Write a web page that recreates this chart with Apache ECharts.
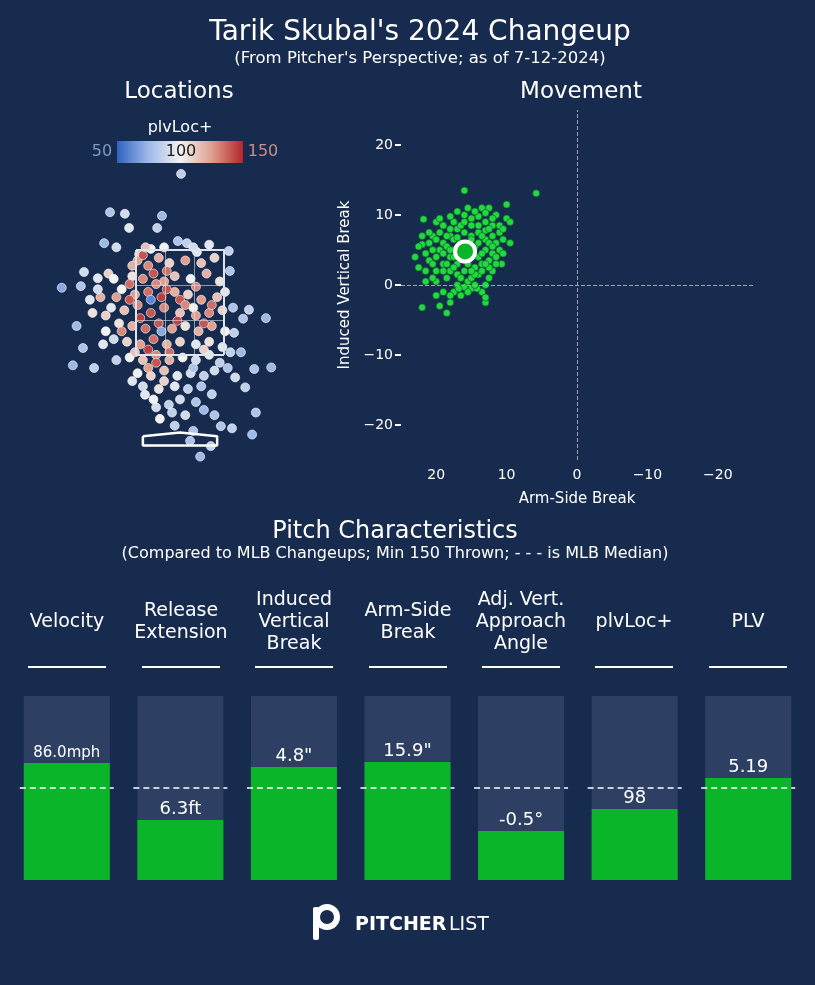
<!DOCTYPE html>
<html>
<head>
<meta charset="utf-8">
<title>Skubal Changeup</title>
<script src="https://cdn.jsdelivr.net/npm/echarts@6/dist/echarts.min.js"></script>
<style>
  * { margin: 0; padding: 0; }
  body { background: #172b4f; }
  #main { width: 815px; height: 985px; }
</style>
</head>
<body>
<div id="main"></div>
<script>
// location of each pitch: [plate x (ft), plate z (ft), plvLoc+]
var locPoints = [
  [0.02,4.95,85],[-1.32,4.22,80],[-1.04,4.19,90],[-0.34,4.15,75],[-0.96,3.92,95],[-0.43,3.92,85],
  [-0.04,3.67,80],[-1.43,3.63,75],[-1.2,3.55,90],[-0.77,3.42,110],[-0.55,3.52,100],[0.13,3.63,85],
  [0.32,3.46,95],[0.92,3.48,85],[-1.81,3.08,90],[-2.23,2.78,70],[0.94,3.1,80],[1.3,2.36,85],
  [1.62,2.2,75],[-1.87,2.81,80],[-1.55,2.96,95],[-1.95,2.05,75],[-1.83,1.63,80],[-2.02,1.3,75],
  [-1.62,1.25,85],[1.4,1.23,80],[1.72,1.26,75],[1.23,0.88,85],[1.43,0.4,80],[1.36,-0.02,75],
  [0.77,0.14,80],[0.98,0.1,85],[0.19,-0.14,80],[0.58,-0.24,85],[0.38,-0.44,75],[-0.66,0.74,95],
  [-0.45,0.5,90],[-0.38,0.28,100],[-0.21,0.55,85],[1.04,1.07,90],[1.0,2.4,80],[1.02,1.92,85],
  [1.19,2.19,80],
  [-0.8,3.3,125],[-0.6,3.2,130],[-0.4,3.35,120],[-0.2,3.25,110],[0.1,3.3,125],[0.4,3.25,115],
  [0.65,3.35,110],[-0.9,3.0,105],[-0.7,2.95,130],[-0.5,3.05,140],[-0.3,2.9,125],[-0.1,3.0,115],
  [0.2,2.95,100],[0.5,3.05,120],[0.75,2.9,105],[-1.1,2.75,100],[-0.85,2.65,125],[-0.6,2.7,135],
  [-0.35,2.6,145],[-0.1,2.7,120],[0.15,2.65,110],[0.4,2.55,125],[0.7,2.6,115],[-1.3,2.4,95],
  [-1.05,2.35,115],[-0.8,2.45,130],[-0.55,2.3,140],[-0.3,2.4,130],[0.0,2.3,115],[0.25,2.4,100],
  [0.55,2.3,130],[0.8,2.35,110],[-1.15,2.1,105],[-0.9,2.05,120],[-0.65,2.0,135],[-0.4,2.1,140],
  [-0.15,2.0,125],[0.1,2.05,105],[0.35,1.95,120],[0.6,2.05,125],[0.85,1.95,100],[-1.25,1.8,90],
  [-1.0,1.75,110],[-0.75,1.7,125],[-0.5,1.8,135],[-0.25,1.7,120],[0.0,1.75,110],[0.3,1.7,95],
  [0.55,1.75,105],[0.8,1.65,95],[-0.95,1.45,100],[-0.7,1.4,115],[-0.45,1.5,130],[-0.2,1.4,120],
  [0.05,1.45,100],[0.3,1.4,90],[0.55,1.5,95],[0.75,1.35,85],[-0.8,1.15,100],[-0.55,1.1,110],
  [-0.3,1.2,115],[-0.05,1.1,95],[0.2,1.15,90],[0.45,1.1,85],[0.65,1.2,90],[-0.7,0.9,90],
  [-0.4,0.85,105],[-0.1,0.9,95],[0.15,0.85,85],[0.4,0.9,80],[0.6,0.75,85],[-0.55,2.55,60],
  [-0.35,1.95,70],[-1.35,3.05,110],[-1.5,2.6,120],[-1.65,2.3,105],[-1.4,1.95,100],[0.3,0.6,80],
  [-0.15,0.4,85],[0.1,0.35,90],[-0.25,3.1,135],[0.3,2.8,130],[-0.75,2.2,145],[0.0,2.55,140],
  [-0.9,3.2,120],[-0.7,3.4,140],[-0.95,2.85,135],[-1.2,2.6,125],[-1.4,2.25,110],[-1.1,1.95,130],
  [-0.85,1.55,115],[-0.6,1.25,125],[-0.3,1.0,110],[-0.45,1.35,140],[-0.2,1.55,135],[-0.6,1.6,145],
  [-0.95,2.55,140],[-1.25,2.95,100],[-1.55,2.75,90],[-1.7,2.55,95],[-1.45,1.7,95],[-1.2,1.4,85],
  [-0.9,1.0,95],[-0.5,0.65,100],[0.0,0.65,90],[0.25,1.25,80],[0.45,1.6,110],[0.6,2.45,135],
  [0.45,2.1,140],[0.3,2.25,125],[0.1,2.45,130],[-0.05,2.15,145],[-0.25,2.75,140],[-0.45,2.85,130],
  [0.85,2.7,95],[0.95,1.55,85],[0.9,1.25,80],[1.15,1.55,75],[0.45,0.45,75],[0.65,0.35,80],
  [-0.1,0.15,85],[0.25,0.05,80],[-0.65,3.55,115],[-0.3,3.55,100],[0.25,3.55,90],[0.55,3.6,95]
];
// movement of each pitch: [arm-side break (in), induced vertical break (in)]
var movePoints = [
  [16,13.5],[13.5,11],[12.5,11],[11.5,10],[10,11.5],[10,9.5],[9.5,9],[5.8,13.1],[9.5,6],[10.5,6.5],
  [10.7,3],[12,2],[13,0],[13.5,-1],[13,-2.5],[15,-0.5],[16.5,-1.5],[18,-2.5],[18.5,-4],[19.5,-3],
  [22,-3.2],[21.5,0.5],[22.5,2.5],[23,4],[22,5.8],[21.8,9.4],[20.5,7],[19,8.5],[17.5,9],[16,10],
  [15,9.5],[14,9.8],[13,9],[12,8.5],[11,7.5],[11.5,6],[12,4.5],[11.5,3],[12.5,1],[14,1.5],
  [15.5,0.5],[17,0],[18.5,1],[20,2],[21,3.5],[21,6],[20,4],[19,6],[18,7],[17,8],
  [16,7.5],[15,7],[14,7.5],[13,6.5],[12.5,6],[13,5],[14,4],[13.5,3],[14.5,2.5],[16,2],
  [17,3],[18,4],[19,3],[19.5,5],[18.5,5.5],[17.5,5],[16.5,6],[15.5,5.5],[14.5,5.5],[15,4],
  [16,3.5],[17,1.5],[18,2],[20,0.5],[19,-1],[17.5,-1],[16,-0.3],[15,1],[13.5,4.5],[12,7],
  [14,8.5],[15,8.5],[16.5,8.5],[18,8],[19.5,7.5],[20.5,5],[21.5,4.5],[20.5,1],[17.5,4],[16.5,4.5],
  [15.5,3],[14,6],[13,7.8],[11,5],[10.5,4.5],[20,9],[17,10.5],[15.5,11],[12.5,2.5],[14.2,-0.5],
  [21,7.5],[22,7],[20,6.5],[19,4.5],[18.5,3],[17.5,2.5],[16.5,1],[14.5,0],[13.5,2],[12.5,3.5],
  [11.5,4],[12,5.5],[13.5,7],[15,6.5],[16,9],[17.5,6.5],[18.5,7],[19.5,9.5],[18,9.8],[14.5,10.5],
  [13,10.3],[12,9.5],[11,8.5],[10.5,8],[19,2],[20.5,3],[21.5,2],[22.5,5.5],[20,-1.5],[18,-1.5],
  [16.8,-0.5],[15.5,-1],[13,-1.8],[14.5,1.5],[17,6.8],[18,5],[16,5],[13,3],[12.5,8],[15,2]
];
var avgMove = [15.9, 4.8];

var metricNames = ['Velocity', 'Release\nExtension', 'Induced\nVertical\nBreak', 'Arm-Side\nBreak',
  'Adj. Vert.\nApproach\nAngle', 'plvLoc+', 'PLV'];
var metricLabels = ['86.0mph', '6.3ft', '4.8"', '15.9"', '-0.5°', '98', '5.19'];
var metricPct = [63.6, 32.6, 61.4, 64.1, 26.6, 38.6, 55.4];
var medianPct = 50;
var moveTicks = [-20, -10, 0, 10, 20];

var bg = '#172b4f';
var chart = echarts.init(document.getElementById('main'));

// strike zone + inner grid lines
var zx = [-0.83, -0.277, 0.277, 0.83], zy = [1.5, 2.167, 2.833, 3.5];
var zoneLines = [];
zx.forEach(function (x, i) {
  var edge = (i == 0 || i == 3);
  zoneLines.push({ coords: [[x, 1.5], [x, 3.5]], lineStyle: { width: edge ? 2 : 1, opacity: edge ? 1 : 0.6 } });
});
zy.forEach(function (y, i) {
  var edge = (i == 0 || i == 3);
  zoneLines.push({ coords: [[-0.83, y], [0.83, y]], lineStyle: { width: edge ? 2 : 1, opacity: edge ? 1 : 0.6 } });
});
var plate = [[-0.7, -0.05], [-0.7, -0.23], [0.7, -0.23], [0.7, -0.05], [0, 0.02], [-0.7, -0.05]];

function txt(x, y, s, font, fill, align) {
  return { type: 'text', x: x, y: y, style: { text: s, fill: fill || '#fff', font: font, align: align || 'center', verticalAlign: 'middle', lineHeight: 22 } };
}

var headerGraphics = [];
var centers = [67, 181, 294, 408, 521, 634, 748];
centers.forEach(function (cx, i) {
  headerGraphics.push(txt(cx, 622, metricNames[i], '19px "DejaVu Sans"'));
  headerGraphics.push({ type: 'line', shape: { x1: cx - 39, y1: 667, x2: cx + 39, y2: 667 }, style: { stroke: '#fff', lineWidth: 2 } });
});

function minus(v) { return v < 0 ? '\u2212' + (-v) : String(v); }

var option = {
  backgroundColor: bg,
  animation: false,
  textStyle: { fontFamily: 'DejaVu Sans' },
  visualMap: { show: false, seriesIndex: 0, dimension: 2, min: 50, max: 150,
    inRange: { color: ['#2f63c0', '#9db9e8', '#f2f2f2', '#e0a08f', '#b3262b'] } },
  grid: [
    { left: 40, top: 165, width: 280, height: 300 },
    { left: 401, top: 110, width: 352, height: 350 },
    { left: 10, top: 696, width: 795, height: 184 }
  ],
  xAxis: [
    { gridIndex: 0, type: 'value', min: -2.64, max: 2.64, show: false },
    { gridIndex: 1, type: 'value', min: -25, max: 25, inverse: true,
      name: 'Arm-Side Break', nameLocation: 'middle', nameGap: 32, nameTextStyle: { color: '#fff', fontSize: 15 },
      axisLine: { show: false, onZero: false }, axisTick: { show: false }, splitLine: { show: false },
      axisLabel: { color: '#fff', fontSize: 14, customValues: moveTicks, formatter: minus } },
    { gridIndex: 2, type: 'category', data: metricNames, show: false }
  ],
  yAxis: [
    { gridIndex: 0, type: 'value', min: -0.6, max: 5.12, show: false },
    { gridIndex: 1, type: 'value', min: -25, max: 25,
      name: 'Induced Vertical Break', nameLocation: 'middle', nameGap: 48, nameTextStyle: { color: '#fff', fontSize: 15 },
      axisLine: { show: false, onZero: false },
      axisTick: { show: true, length: 6, customValues: moveTicks, lineStyle: { color: '#fff', width: 2 } }, splitLine: { show: false },
      axisLabel: { color: '#fff', fontSize: 14, customValues: moveTicks, formatter: minus } },
    { gridIndex: 2, type: 'value', min: 0, max: 100, show: false }
  ],
  series: [
    { type: 'scatter', xAxisIndex: 0, yAxisIndex: 0, data: locPoints, symbolSize: 9,
      itemStyle: { borderColor: '#fff', borderWidth: 0.6, opacity: 1 }, z: 3 },
    { type: 'lines', coordinateSystem: 'cartesian2d', xAxisIndex: 0, yAxisIndex: 0, data: zoneLines,
      lineStyle: { color: '#dfe3ea', width: 2 }, z: 4 },
    { type: 'line', xAxisIndex: 0, yAxisIndex: 0, data: plate, symbol: 'none',
      lineStyle: { color: '#fff', width: 2.5 }, z: 4 },
    { type: 'scatter', xAxisIndex: 1, yAxisIndex: 1, data: movePoints, symbolSize: 7,
      itemStyle: { color: '#22d843', borderColor: '#0d5a1e', borderWidth: 0.6, opacity: 1 }, z: 3,
      markLine: { silent: true, symbol: 'none', label: { show: false },
        lineStyle: { color: '#9aa4b5', type: 'dashed', width: 1 },
        data: [{ xAxis: 0 }, { yAxis: 0 }] } },
    { type: 'scatter', xAxisIndex: 1, yAxisIndex: 1, data: [avgMove], symbolSize: 20,
      itemStyle: { color: '#0ab52a', borderColor: '#fff', borderWidth: 4, opacity: 1 }, z: 5 },
    { type: 'bar', xAxisIndex: 2, yAxisIndex: 2, data: metricPct, barWidth: 86,
      showBackground: true, backgroundStyle: { color: '#2d4063' },
      itemStyle: { color: '#0ab52a' },
      label: { show: true, position: 'top', distance: 2, color: '#fff', fontSize: 18,
        formatter: function (p) { return metricLabels[p.dataIndex]; } },
      labelLayout: function (p) { return p.dataIndex == 0 ? { fontSize: 15 } : {}; } },
    { type: 'custom', xAxisIndex: 2, yAxisIndex: 2, data: metricNames.map(function (n, i) { return [i, medianPct]; }),
      renderItem: function (params, api) {
        var p = api.coord([api.value(0), api.value(1)]);
        return { type: 'line', shape: { x1: p[0] - 47, y1: p[1], x2: p[0] + 47, y2: p[1] },
          style: { stroke: '#fff', lineWidth: 1.5, lineDash: [6, 4] } };
      }, z: 5 }
  ],
  graphic: [
    txt(420, 33, "Tarik Skubal's 2024 Changeup", '28px "DejaVu Sans"'),
    txt(420, 59, "(From Pitcher's Perspective; as of 7-12-2024)", '16.5px "DejaVu Sans"'),
    txt(179, 92, 'Locations', '23px "DejaVu Sans"'),
    txt(581, 92, 'Movement', '23px "DejaVu Sans"'),
    txt(395, 532, 'Pitch Characteristics', '24px "DejaVu Sans"'),
    txt(395, 554, '(Compared to MLB Changeups; Min 150 Thrown; - - - is MLB Median)', '16px "DejaVu Sans"'),
    { type: 'rect', shape: { x: 117, y: 141, width: 126, height: 22 },
      style: { fill: new echarts.graphic.LinearGradient(0, 0, 1, 0, [
        { offset: 0, color: '#2f63c0' }, { offset: 0.25, color: '#9db9e8' }, { offset: 0.5, color: '#f2f2f2' },
        { offset: 0.75, color: '#e0a08f' }, { offset: 1, color: '#b3262b' }]) } },
    txt(180, 128, 'plvLoc+', '16px "DejaVu Sans"'),
    txt(102, 152, '50', '16px "DejaVu Sans"', '#7f9ac4'),
    txt(181, 152, '100', '16px "DejaVu Sans"', '#1a1a1a'),
    txt(263, 152, '150', '16px "DejaVu Sans"', '#c98e86'),
    { type: 'rect', shape: { x: 313, y: 907, width: 6, height: 33, r: 2 }, style: { fill: '#fff' } },
    { type: 'circle', shape: { cx: 327, cy: 917, r: 10 }, style: { fill: 'none', stroke: '#fff', lineWidth: 6 } },
    txt(355, 925, 'PITCHER', 'bold 19px "DejaVu Sans"', '#fff', 'left'),
    txt(449, 925, 'LIST', '19px "DejaVu Sans"', '#fff', 'left')
  ].concat(headerGraphics)
};
chart.setOption(option);
</script>
</body>
</html>
